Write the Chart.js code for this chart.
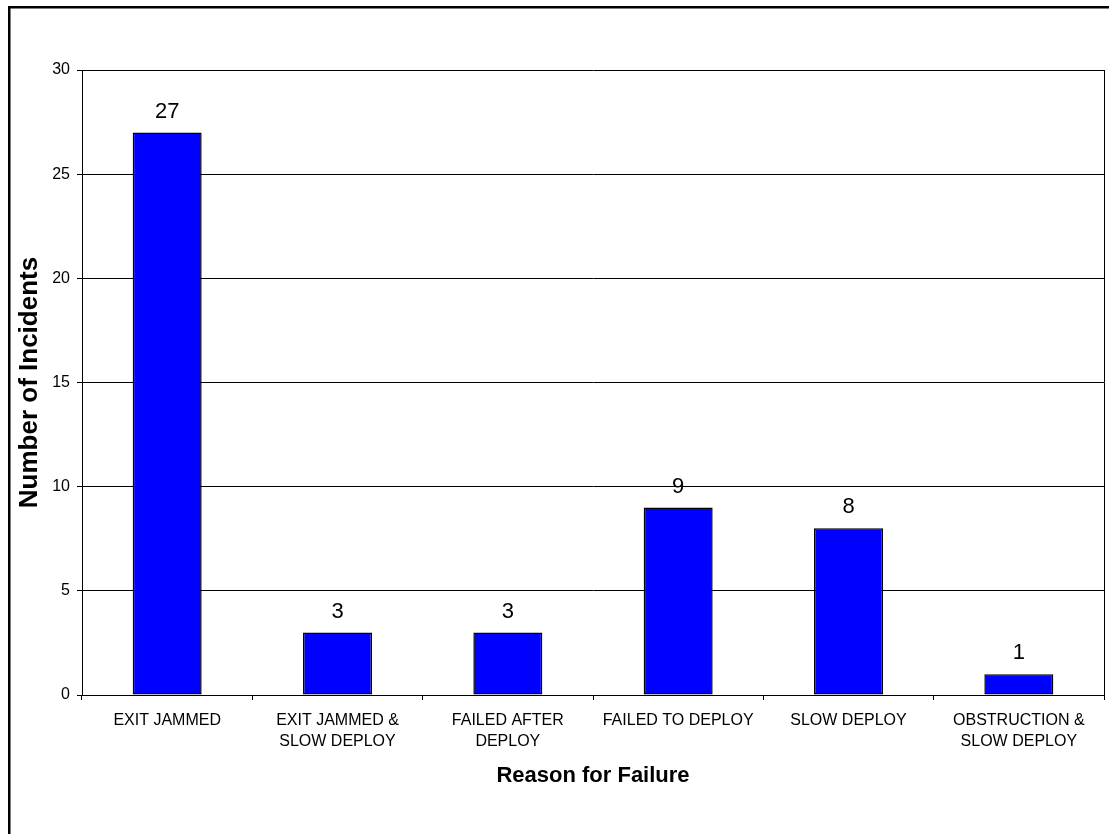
<!DOCTYPE html>
<html>
<head>
<meta charset="utf-8">
<script src="https://cdn.jsdelivr.net/npm/chart.js@4.4.1/dist/chart.umd.min.js"></script>
<style>
  html, body { margin: 0; padding: 0; background: #ffffff; }
  #wrap { width: 1109px; height: 834px; position: relative; }
</style>
</head>
<body>
<div id="wrap"><canvas id="chart" width="1109" height="834"></canvas></div>
<script>
// Failure reasons and incident counts
const categories = [
  ['EXIT JAMMED'],
  ['EXIT JAMMED &', 'SLOW DEPLOY'],
  ['FAILED AFTER', 'DEPLOY'],
  ['FAILED TO DEPLOY'],
  ['SLOW DEPLOY'],
  ['OBSTRUCTION &', 'SLOW DEPLOY']
];
const incidents = [27, 3, 3, 9, 8, 1];
const yTicks = [0, 5, 10, 15, 20, 25, 30];

const FONT = '"Liberation Sans", Arial, Helvetica, sans-serif';

// Frame around the whole figure and right edge of the plot area
const framePlugin = {
  id: 'frame',
  afterDraw(chart) {
    const ctx = chart.ctx;
    const a = chart.chartArea;
    ctx.save();
    ctx.strokeStyle = '#000000';
    ctx.lineWidth = 1;
    ctx.beginPath();
    ctx.moveTo(Math.round(a.right) + 0.5, a.top);
    ctx.lineTo(Math.round(a.right) + 0.5, a.bottom);
    ctx.stroke();
    ctx.lineWidth = 2.5;
    ctx.strokeRect(9.25, 7.25, 1400, 1200);
    ctx.restore();
  }
};

// Value labels above each bar
const valueLabels = {
  id: 'valueLabels',
  afterDatasetsDraw(chart) {
    const ctx = chart.ctx;
    const meta = chart.getDatasetMeta(0);
    ctx.save();
    ctx.fillStyle = '#000000';
    ctx.font = '22px ' + FONT;
    ctx.textAlign = 'center';
    ctx.textBaseline = 'alphabetic';
    meta.data.forEach((bar, i) => {
      ctx.fillText(String(incidents[i]), bar.x, bar.y - 15);
    });
    ctx.restore();
  }
};

new Chart(document.getElementById('chart'), {
  type: 'bar',
  data: {
    labels: categories,
    datasets: [{
      data: incidents,
      backgroundColor: '#0000FF',
      borderColor: '#000000',
      borderWidth: 1.5,
      borderSkipped: false,
      barPercentage: 0.405,
      categoryPercentage: 1.0
    }]
  },
  options: {
    responsive: false,
    animation: false,
    events: [],
    layout: { padding: { left: 0, top: 70, right: 5, bottom: 0 } },
    plugins: {
      legend: { display: false },
      tooltip: { enabled: false }
    },
    scales: {
      x: {
        offset: true,
        border: { display: true, color: '#000000', width: 1 },
        grid: {
          display: true,
          offset: true,
          drawOnChartArea: false,
          drawTicks: true,
          tickLength: 5,
          color: '#000000'
        },
        ticks: {
          color: '#000000',
          font: { family: FONT, size: 16, lineHeight: 1.3 },
          maxRotation: 0,
          minRotation: 0,
          autoSkip: false,
          padding: 10
        },
        title: {
          display: true,
          text: 'Reason for Failure',
          color: '#000000',
          font: { family: FONT, size: 22, weight: 'bold' },
          padding: { top: 0, bottom: 45 }
        },
        afterFit(scale) { scale.height = 139; }
      },
      y: {
        min: 0,
        max: 30,
        border: { display: true, color: '#000000', width: 1 },
        grid: {
          color: '#000000',
          lineWidth: 1,
          tickLength: 5,
          drawTicks: true
        },
        afterBuildTicks(scale) {
          scale.ticks = yTicks.map(v => ({ value: v }));
        },
        ticks: {
          color: '#000000',
          font: { family: FONT, size: 16 },
          padding: 7
        },
        title: {
          display: true,
          text: 'Number of Incidents',
          color: '#000000',
          font: { family: FONT, size: 26, weight: 'bold' },
          padding: { top: 14, bottom: 0 }
        },
        afterFit(scale) { scale.width = 82; }
      }
    }
  },
  plugins: [framePlugin, valueLabels]
});
</script>
</body>
</html>
